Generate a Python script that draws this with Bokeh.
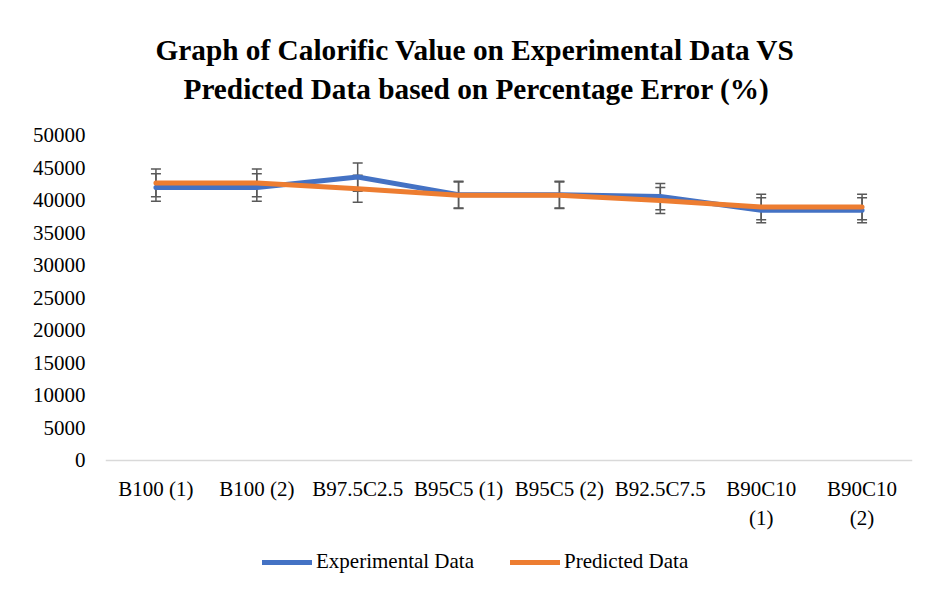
from bokeh.plotting import figure
from bokeh.models import (ColumnDataSource, Whisker, TeeHead, Legend, LegendItem, Title,
                          FactorRange, Range1d, FixedTicker)
from bokeh.embed import file_html
from bokeh.resources import INLINE

categories = ["B100 (1)", "B100 (2)", "B97.5C2.5", "B95C5 (1)", "B95C5 (2)",
              "B92.5C7.5", "B90C10\n(1)", "B90C10\n(2)"]
experimental = [42000, 42000, 43600, 40900, 40900, 40600, 38500, 38500]
predicted = [42700, 42700, 41800, 40800, 40800, 40000, 39000, 39000]
percentage_error = 5  # error bars: +/- 5 % of each value
y_ticks = [0, 5000, 10000, 15000, 20000, 25000, 30000, 35000, 40000, 45000, 50000]
title_lines = ["Graph of Calorific Value on Experimental Data VS",
               "Predicted Data based on Percentage Error (%)"]
series_names = ["Experimental Data", "Predicted Data"]
series_colors = ["#4472C4", "#ED7D31"]

FONT = "Liberation Serif"

# the plot frame also spans the blank strip above 50000 and the legend area below 0;
# the category axis is drawn at y = 0
p = figure(x_range=FactorRange(factors=categories),
           y_range=Range1d(-22000, 54150),
           frame_width=807, frame_height=495, output_backend="svg", toolbar_location=None,
           min_border_left=105, min_border_right=21, min_border_top=108, min_border_bottom=0)
p.outline_line_color = None
p.xgrid.visible = False
p.ygrid.visible = False

# titles: p.title is the outer line, the added Title sits next to the plot
title_style = dict(text_font=FONT, text_font_size="29.3px", text_font_style="bold",
                   text_color="#000000")
p.title.text = title_lines[0]
p.title.align = "left"
p.title.offset = 50
p.title.standoff = 2
for k, v in title_style.items():
    setattr(p.title, k, v)
p.add_layout(Title(text=title_lines[1], align="left", offset=78, standoff=8,
                   **title_style), "above")

# axes
p.yaxis.ticker = FixedTicker(ticks=y_ticks)
p.yaxis.axis_line_color = None
p.yaxis.major_tick_line_color = None
p.yaxis.minor_tick_line_color = None
p.yaxis.major_label_standoff = 14
p.xaxis.fixed_location = 0
p.xaxis.axis_line_color = "#D9D9D9"
p.xaxis.axis_line_width = 1.5
p.xaxis.major_tick_line_color = None
p.xaxis.minor_tick_line_color = None
p.xaxis.major_label_standoff = 11
for ax in (p.xaxis, p.yaxis):
    ax.major_label_text_font = FONT
    ax.major_label_text_font_size = "21px"
    ax.major_label_text_color = "#000000"

renderers = []
for vals, color in zip([experimental, predicted], series_colors):
    err = [v * percentage_error / 100 for v in vals]
    src = ColumnDataSource(dict(x=categories, y=vals,
                                upper=[v + e for v, e in zip(vals, err)],
                                lower=[v - e for v, e in zip(vals, err)]))
    w = Whisker(base="x", upper="upper", lower="lower", source=src, dimension="height",
                level="underlay", line_color="#595959", line_width=1.5,
                upper_head=TeeHead(size=10, line_color="#595959", line_width=1.5),
                lower_head=TeeHead(size=10, line_color="#595959", line_width=1.5))
    p.add_layout(w)
for vals, color in zip([experimental, predicted], series_colors):
    src = ColumnDataSource(dict(x=categories, y=vals))
    r = p.line("x", "y", source=src, line_color=color, line_width=5,
               line_cap="round", line_join="round")
    renderers.append(r)

legend = Legend(items=[LegendItem(label=n, renderers=[r]) for n, r in zip(series_names, renderers)],
                orientation="horizontal", location=(157, 29), spacing=36, label_standoff=4,
                padding=0, margin=0, glyph_width=50, glyph_height=22,
                label_text_font=FONT, label_text_font_size="21px", label_text_color="#000000",
                border_line_color=None, background_fill_alpha=0)
p.add_layout(legend, "center")

open("out.html", "w").write(file_html(p, INLINE))
